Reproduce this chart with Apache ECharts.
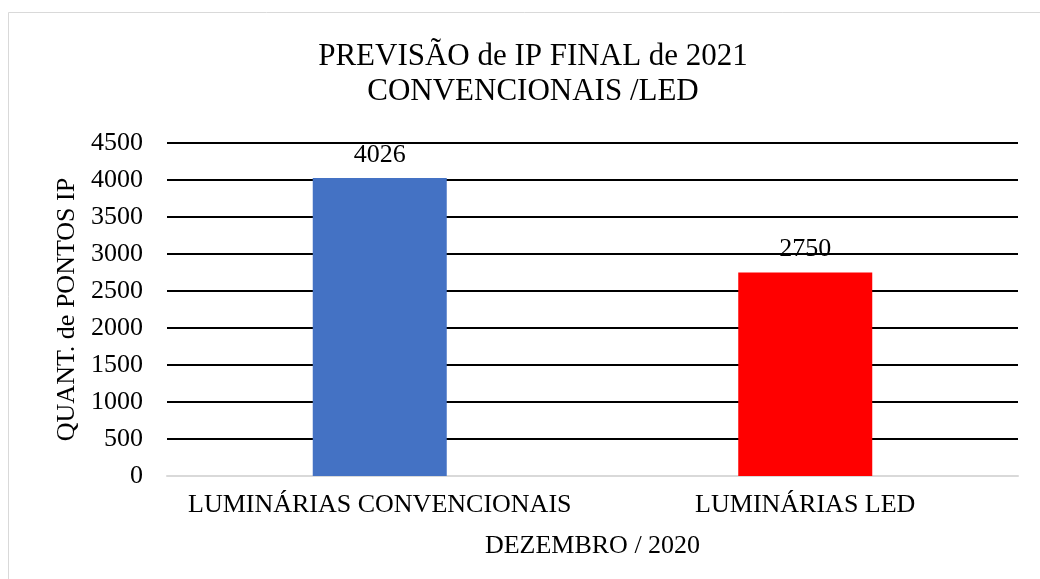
<!DOCTYPE html>
<html>
<head>
<meta charset="utf-8">
<script src="https://cdn.jsdelivr.net/npm/echarts@6/dist/echarts.min.js"></script>
<style>
html,body{margin:0;padding:0;background:#fff;}
#c{width:1040px;height:579px;}
</style>
</head>
<body>
<div id="c"></div>
<script>
const titleLines = ['PREVISÃO de IP FINAL de 2021', 'CONVENCIONAIS /LED'];
const categories = ['LUMINÁRIAS CONVENCIONAIS', 'LUMINÁRIAS LED'];
const values = [4026, 2750];
const barColors = ['#4472C4', '#FF0000'];
const yAxisName = 'QUANT. de PONTOS IP';
const xAxisName = 'DEZEMBRO / 2020';
const yMin = 0, yMax = 4500, yInterval = 500;

const font = '"Liberation Serif", "Times New Roman", serif';
const chart = echarts.init(document.getElementById('c'));
chart.setOption({
  animation: false,
  backgroundColor: '#fff',
  graphic: [{
    type: 'rect', silent: true,
    shape: { x: 8.5, y: 12.5, width: 1100, height: 700 },
    style: { fill: 'none', stroke: '#d9d9d9', lineWidth: 1 }
  }],
  title: {
    text: titleLines.join('\n'),
    left: 528, top: 34, textAlign: 'center',
    textStyle: { fontFamily: font, fontSize: 31, fontWeight: 'normal', color: '#000', lineHeight: 35 }
  },
  grid: { left: 167, right: 22, top: 143, bottom: 103, containLabel: false },
  xAxis: {
    type: 'category', data: categories,
    name: xAxisName, nameLocation: 'middle', nameGap: 57,
    nameTextStyle: { fontFamily: font, fontSize: 26, color: '#000' },
    axisLine: { show: true, lineStyle: { color: '#d9d9d9', width: 2 } },
    axisTick: { show: false },
    axisLabel: { fontFamily: font, fontSize: 26, color: '#000', margin: 16, interval: 0 }
  },
  yAxis: {
    type: 'value', min: yMin, max: yMax, interval: yInterval,
    name: yAxisName, nameLocation: 'middle', nameGap: 84, nameRotate: 90,
    nameTextStyle: { fontFamily: font, fontSize: 26, color: '#000' },
    axisLine: { show: false }, axisTick: { show: false },
    axisLabel: { fontFamily: font, fontSize: 26, color: '#000', margin: 24, formatter: v => String(v) },
    splitLine: { show: true, lineStyle: { color: '#000', width: 2 } }
  },
  series: [{
    type: 'bar',
    data: values.map((v, i) => ({ value: v, itemStyle: { color: barColors[i] } })),
    barWidth: 134,
    label: { show: true, position: 'top', distance: 10, fontFamily: font, fontSize: 26, color: '#000' }
  }]
});
</script>
</body>
</html>
